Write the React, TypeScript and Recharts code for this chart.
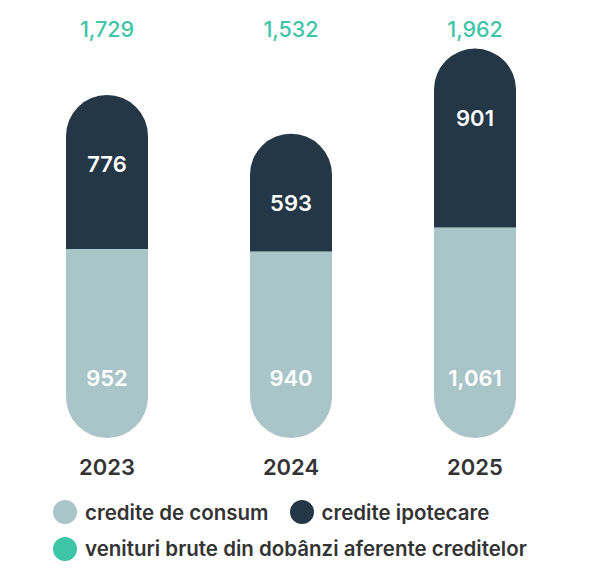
import React from "react";
import { BarChart, Bar, XAxis, YAxis, LabelList } from "recharts";

const years = ["2023", "2024", "2025"];
const consum = [952, 940, 1061];
const ipotecare = [776, 593, 901];
const totals = [1729, 1532, 1962];

const COLORS = {
  consum: "#a9c5c8",
  ipotecare: "#243746",
  total: "#3ec4a7",
  text: "#333333",
};

const legendItems = [
  { label: "credite de consum", color: COLORS.consum },
  { label: "credite ipotecare", color: COLORS.ipotecare },
  { label: "venituri brute din dobânzi aferente creditelor", color: COLORS.total },
];

const data = years.map((y, i) => ({
  year: y,
  consum: consum[i],
  ipotecare: ipotecare[i],
  total: totals[i],
}));

const FONT = "Inter, 'Noto Sans', sans-serif";
const fmt = (v: number) => v.toLocaleString("en-US");

const BottomLabel = (props: any) => {
  const { x, y, width, height, value } = props;
  return (
    <text
      x={x + width / 2}
      y={y + height - 60}
      textAnchor="middle"
      dominantBaseline="central"
      fill="#ffffff"
      fontSize={22}
      fontWeight={600}
      fontFamily={FONT}
    >
      {fmt(value)}
    </text>
  );
};

const TopLabel = (props: any) => {
  const { x, y, width, value } = props;
  return (
    <text
      x={x + width / 2}
      y={y + 69}
      textAnchor="middle"
      dominantBaseline="central"
      fill="#ffffff"
      fontSize={22}
      fontWeight={600}
      fontFamily={FONT}
    >
      {fmt(value)}
    </text>
  );
};

const TotalLabel = (props: any) => {
  const { x, width, index } = props;
  return (
    <text
      x={x + width / 2}
      y={29}
      textAnchor="middle"
      dominantBaseline="central"
      fill={COLORS.total}
      fontSize={21.5}
      fontWeight={500}
      fontFamily={FONT}
    >
      {fmt(totals[index])}
    </text>
  );
};

const YearTick = (props: any) => {
  const { x, y, payload } = props;
  return (
    <text
      x={x}
      y={y + 21}
      textAnchor="middle"
      dominantBaseline="central"
      fill={COLORS.text}
      fontSize={22}
      fontWeight={600}
      fontFamily={FONT}
    >
      {payload.value}
    </text>
  );
};

const LegendItem = ({ it, mr }: { it: { label: string; color: string }; mr: number }) => (
  <div style={{ display: "flex", alignItems: "center", marginRight: mr }}>
    <span
      style={{
        display: "inline-block",
        width: 24,
        height: 24,
        borderRadius: 12,
        background: it.color,
        marginRight: 8,
      }}
    />
    <span style={{ fontSize: 20.5, fontWeight: 600, color: COLORS.text, fontFamily: FONT, whiteSpace: "nowrap" }}>
      {it.label}
    </span>
  </div>
);

export default function App() {
  return (
    <div style={{ position: "absolute", left: 0, top: 0, width: 615, height: 569, background: "#fff" }}>
      <BarChart
        width={615}
        height={569}
        data={data}
        margin={{ top: 41, right: 48, bottom: 101, left: 15 }}
      >
        <XAxis dataKey="year" axisLine={false} tickLine={false} tick={<YearTick />} interval={0} />
        <YAxis hide domain={[0, 2000]} />
        <Bar
          dataKey="consum"
          stackId="a"
          fill={COLORS.consum}
          barSize={82}
          radius={[0, 0, 41, 41]}
          isAnimationActive={false}
        >
          <LabelList dataKey="consum" content={<BottomLabel />} />
        </Bar>
        <Bar
          dataKey="ipotecare"
          stackId="a"
          fill={COLORS.ipotecare}
          barSize={82}
          radius={[41, 41, 0, 0]}
          isAnimationActive={false}
        >
          <LabelList dataKey="ipotecare" content={<TopLabel />} />
          <LabelList dataKey="total" content={<TotalLabel />} />
        </Bar>
      </BarChart>
      <div style={{ position: "absolute", left: 53, top: 494, width: 560 }}>
        <div style={{ display: "flex", height: 36, alignItems: "center" }}>
          <LegendItem it={legendItems[0]} mr={21} />
          <LegendItem it={legendItems[1]} mr={0} />
        </div>
        <div style={{ display: "flex", height: 37, alignItems: "center" }}>
          <LegendItem it={legendItems[2]} mr={0} />
        </div>
      </div>
    </div>
  );
}
